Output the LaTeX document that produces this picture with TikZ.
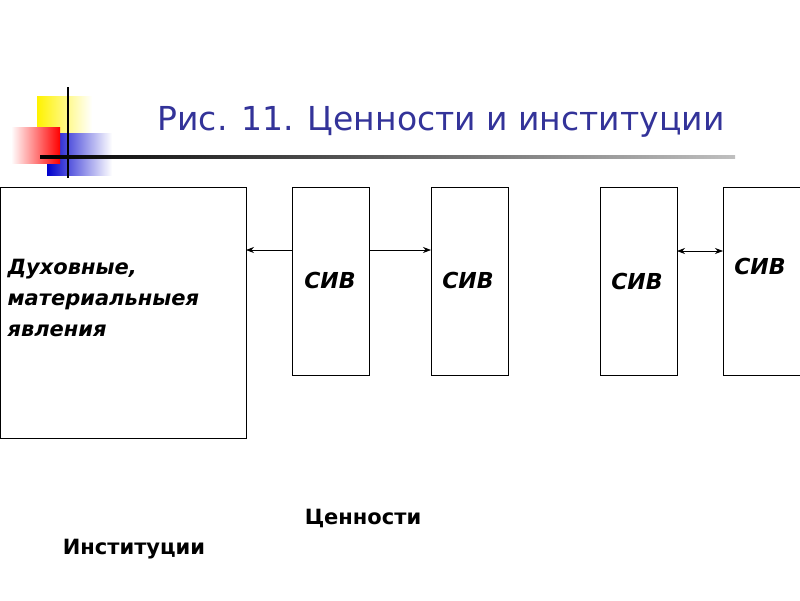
\documentclass[tikz,border=0pt]{standalone}
\usepackage{fontspec}
\setmainfont{DejaVu Sans}
\usetikzlibrary{arrows.meta}
\definecolor{ttl}{HTML}{333399}
\tikzset{box/.style={draw,line width=0.8pt},
 lab/.style={font=\fontsize{22}{26}\selectfont\bfseries\itshape},
 con/.style={line width=0.7pt,-{Stealth[length=8pt,width=6pt]}},
 con2/.style={line width=0.7pt,{Stealth[length=8pt,width=6pt]}-{Stealth[length=8pt,width=6pt]}}}
\begin{document}
\begin{tikzpicture}[x=1pt,y=-1pt]
\useasboundingbox (0,0) rectangle (800,600);
% logo
\shade[left color=yellow!90!orange,right color=white] (37,96) rectangle (92,134);
\shade[left color=blue!80!black,right color=white] (47,133) rectangle (112,175);
\shade[left color=white,right color=red] (11,127) rectangle (60,163);
\draw[line width=1.3pt] (68,87) -- (68,178);
\shade[left color=black,right color=gray!50] (40,155.8) rectangle (735,158.2);
\node[text=ttl,font=\fontsize{33}{36}\selectfont] (t) at (441,122) {Рис. 11. Ценности и институции};
% boxes
\draw[box] (0,187) rectangle (246,438);
\coordinate (b) at (246,250);
\draw[box] (292,187) rectangle (369,375);
\draw[box] (431,187) rectangle (508,375);
\draw[box] (600,187) rectangle (677,375);
\draw[box] (723,187) rectangle (801,375);
\coordinate (s1l) at (292,250); \coordinate (s1r) at (369,250);
\coordinate (s2l) at (431,250);
\coordinate (s3r) at (677,251); \coordinate (s4l) at (723,251);
\draw[con] (s1l) -- (b);
\draw[con] (s1r) -- (s2l);
\draw[con2] (s3r) -- (s4l);
\node[anchor=west,align=left,font=\fontsize{21}{31}\selectfont\bfseries\itshape] (d) at (4,298) {Духовные,\\материальныея\\явления};
\node[lab] (c1) at (330,280) {СИВ};
\node[lab] (c2) at (468,280) {СИВ};
\node[lab] (c3) at (637,281) {СИВ};
\node[lab] (c4) at (760,266) {СИВ};
\node[font=\fontsize{21}{24}\selectfont\bfseries] (v) at (363,518) {Ценности};
\node[font=\fontsize{21}{24}\selectfont\bfseries] (i) at (134,549) {Институции};
\end{tikzpicture}
\end{document}
